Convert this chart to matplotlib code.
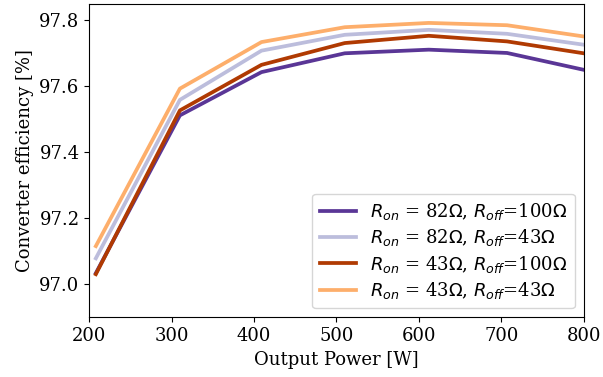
import numpy as np
import matplotlib
matplotlib.use('Agg')
import matplotlib.pyplot as plt

plt.rcParams['font.family'] = 'DejaVu Serif'
plt.rcParams['font.size'] = 13

# output power [W]
power = [208, 310, 409, 510, 612, 707, 800]

# converter efficiency [%]
eff_82_100 = [97.034, 97.512, 97.643, 97.700, 97.711, 97.701, 97.650]
eff_82_43 = [97.079, 97.559, 97.708, 97.756, 97.771, 97.759, 97.726]
eff_43_100 = [97.031, 97.527, 97.665, 97.731, 97.753, 97.736, 97.700]
eff_43_43 = [97.116, 97.593, 97.734, 97.779, 97.792, 97.785, 97.751]

labels = [r'$R_{on}$ = 82$\Omega$, $R_{off}$=100$\Omega$',
          r'$R_{on}$ = 82$\Omega$, $R_{off}$=43$\Omega$',
          r'$R_{on}$ = 43$\Omega$, $R_{off}$=100$\Omega$',
          r'$R_{on}$ = 43$\Omega$, $R_{off}$=43$\Omega$']
colors = ['#5a3696', '#bcbddc', '#b03a02', '#fdae6b']

fig, ax = plt.subplots(figsize=(6.03, 3.77), dpi=100)
for curve, label, c in zip([eff_82_100, eff_82_43, eff_43_100, eff_43_43], labels, colors):
    ax.plot(power, curve, color=c, lw=2.7, label=label)

ax.set_xlim(200, 800)
ax.set_ylim(96.9, 97.85)
ax.set_yticks([97.0, 97.2, 97.4, 97.6, 97.8])
ax.set_xlabel('Output Power [W]')
ax.set_ylabel('Converter efficiency [%]')
ax.legend(loc='lower right', labelspacing=0.3)

plt.subplots_adjust(left=0.148, right=0.968, top=0.99, bottom=0.158)
plt.savefig('out.png')
